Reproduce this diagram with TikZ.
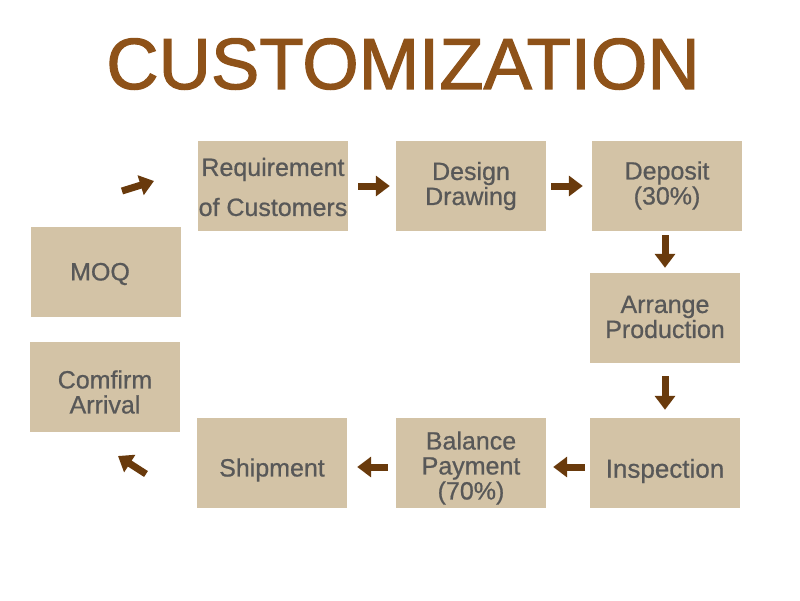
\documentclass[tikz,border=0pt]{standalone}
\usepackage{fontspec}
\setmainfont{Liberation Sans}
\newfontfamily\titlefont{Liberation Sans}[FakeBold=1.6]
\newfontfamily\boxfont{Liberation Sans}[FakeBold=0.7]
\usetikzlibrary{arrows.meta,positioning}
\definecolor{ctitle}{RGB}{142,82,25}
\definecolor{cbox}{RGB}{211,195,166}
\definecolor{ctext}{RGB}{88,88,88}
\definecolor{carrow}{RGB}{105,58,12}
\tikzset{
  stepbox/.style={fill=cbox, minimum width=150pt, minimum height=90pt, inner sep=0pt},
  steptext/.style={text=ctext, align=center, yshift=-2pt,
    font=\boxfont\fontsize{25}{25}\selectfont},
  flowarrow/.style={carrow, line width=7pt, -{Triangle[length=14pt,width=20pt]}}
}

\begin{document}
\begin{tikzpicture}[x=1pt, y=-1pt]
  \useasboundingbox[fill=white] (0,0) rectangle (800,600);
  \node[ctitle, font=\titlefont\fontsize{72.5}{72.5}\selectfont] (title) at (403,64) {CUSTOMIZATION};
  % top row
  \node[stepbox, label={[steptext, yshift=1pt]center:Requirement\\[15pt]of Customers}] (req) at (273,186) {};
  \node[stepbox, label={[steptext, yshift=2pt]center:Design\\Drawing}] (des) at (471,186) {};
  \node[stepbox, label={[steptext, yshift=2.5pt]center:Deposit\\(30\%)}] (dep) at (667,186) {};
  % right column
  \node[stepbox, label={[steptext, yshift=3pt]center:Arrange\\Production}] (arr) at (665,318) {};
  \node[stepbox, label={[steptext, yshift=-6pt, font=\boxfont\fontsize{26}{26}\selectfont]center:Inspection}] (ins) at (665,463) {};
  % bottom row
  \node[stepbox, label={[steptext, yshift=-3pt]center:Balance\\Payment\\(70\%)}] (bal) at (471,463) {};
  \node[stepbox, label={[steptext, yshift=-5pt]center:Shipment}] (shp) at (272,463) {};
  % left column
  \node[stepbox, label={[steptext, xshift=-6pt]center:MOQ}] (moq) at (106,272) {};
  \node[stepbox, label={[steptext, yshift=-3pt]center:Comfirm\\Arrival}] (arv) at (105,387) {};
  \coordinate (c1) at (122,191);
  \coordinate (c2) at (154,181);
  \coordinate (c3) at (146,474);
  \coordinate (c4) at (118,456);
  \draw[flowarrow, shorten <=10pt, shorten >=6pt] (req.east) -- (des.west);
  \draw[flowarrow, shorten <=5pt, shorten >=9pt] (des.east) -- (dep.west);
  \draw[flowarrow, shorten <=4pt, shorten >=5pt] (arr.north |- dep.south) -- (arr.north);
  \draw[flowarrow, shorten <=13pt, shorten >=8pt] (arr.south) -- (ins.north);
  \draw[flowarrow, shorten <=5pt, shorten >=7pt] ([yshift=-4pt]ins.west) -- ([yshift=-4pt]bal.east);
  \draw[flowarrow, shorten <=8pt, shorten >=10pt] ([yshift=-4pt]bal.west) -- ([yshift=-4pt]shp.east);
  \draw[flowarrow] (c1) -- (c2);
  \draw[flowarrow] (c3) -- (c4);
\end{tikzpicture}
\end{document}
